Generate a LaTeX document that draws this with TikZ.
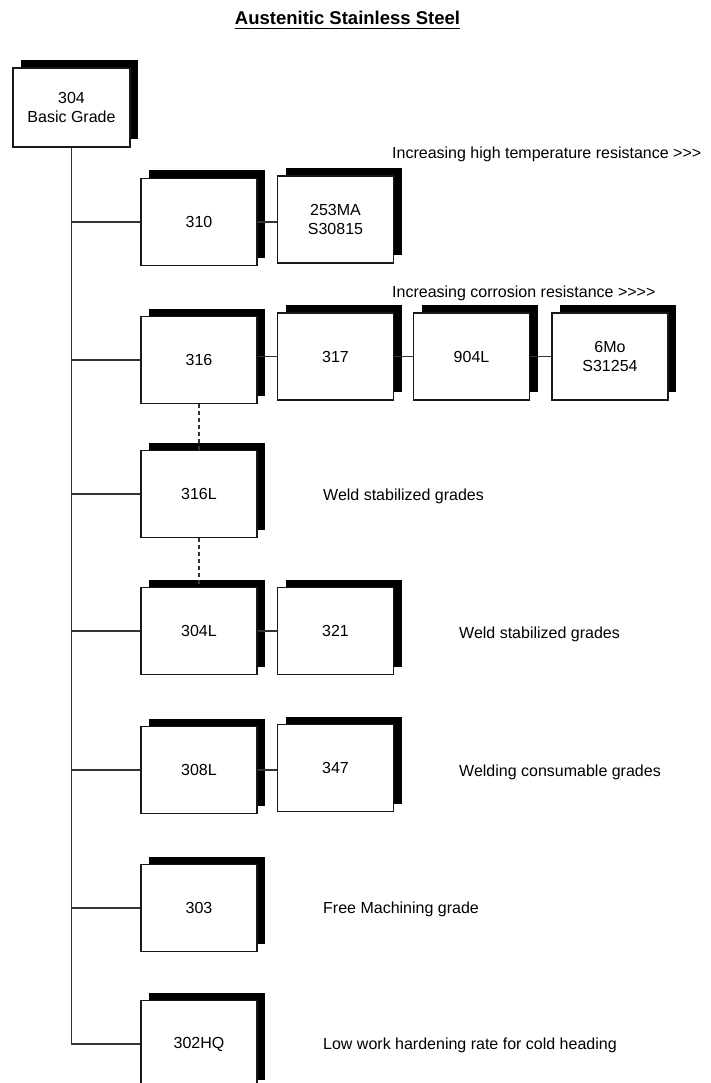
\documentclass[tikz,border=0pt]{standalone}
\usepackage{fontspec}
\newfontfamily\lab{Liberation Sans}
\usetikzlibrary{shadows}
\begin{document}
\begin{tikzpicture}[x=1pt,y=-1pt,
  grade/.style={draw=black!90, line width=1.2pt, fill=white,
    minimum width=116pt, minimum height=87pt, inner sep=0pt, align=center,
    font=\lab\fontsize{16}{19}\selectfont,
    drop shadow={shadow xshift=8pt, shadow yshift=8pt, fill=black, opacity=1, shadow scale=1}},
  link/.style={draw=black!80, line width=1.2pt},
  dashlink/.style={draw=black!80, line width=1.2pt, dash pattern=on 4pt off 3pt},
  note/.style={anchor=base west, inner sep=0pt, font=\lab\fontsize{16}{19}\selectfont}]
\path[use as bounding box, fill=white] (0,0) rectangle (710,1083);

% title
\node[anchor=base, inner sep=0pt, font=\lab\bfseries\fontsize{18.5}{22}\selectfont] (title) at (347.5,25) {Austenitic Stainless Steel};
\draw[line width=1.8pt] ([yshift=-3.5pt]title.base west) -- ([yshift=-3.5pt]title.base east);

% boxes
\node[grade, minimum width=117pt, minimum height=79pt] (g304) at (71.5,107.5) {304\\Basic Grade};
\node[grade] (g310) at (199,222) {310};
\node[grade] (g253) at (335.5,219.5) {253MA\\S30815};
\node[grade] (g316) at (199,360) {316};
\node[grade] (g317) at (335.5,356.5) {317};
\node[grade] (g904) at (471.5,356.5) {904L};
\node[grade] (g6mo) at (610,356.5) {6Mo\\S31254};
\node[grade] (g316l) at (199,494) {316L};
\node[grade] (g304l) at (199,631) {304L};
\node[grade] (g321) at (335.5,631) {321};
\node[grade] (g308l) at (199,770) {308L};
\node[grade] (g347) at (335.5,768) {347};
\node[grade] (g303) at (199,908) {303};
\node[grade] (g302) at (199,1044) {302HQ};

% notes
\node[note] (n1) at (392,159) {Increasing high temperature resistance >>>};
\node[note] (n2) at (392,297.5) {Increasing corrosion resistance >>>>};
\node[note] (n3) at (323,500) {Weld stabilized grades};
\node[note] (n4) at (459,638.5) {Weld stabilized grades};
\node[note] (n5) at (459,776.5) {Welding consumable grades};
\node[note] (n6) at (323,913.5) {Free Machining grade};
\node[note] (n7) at (323,1049.5) {Low work hardening rate for cold heading};

% trunk and branches
\draw[link] (g304.south) |- (g302.west);
\draw[link] (g304.south |- g310.west) -- (g310.west);
\draw[link] (g304.south |- g316.west) -- (g316.west);
\draw[link] (g304.south |- g316l.west) -- (g316l.west);
\draw[link] (g304.south |- g304l.west) -- (g304l.west);
\draw[link] (g304.south |- g308l.west) -- (g308l.west);
\draw[link] (g304.south |- g303.west) -- (g303.west);

% row links
\draw[link] (g310.east) -- (g310.east -| g253.west);
\draw[link] (g317.west -| g316.east) -- (g317.west);
\draw[link] (g317.east) -- (g904.west);
\draw[link] (g904.east) -- (g6mo.west);
\draw[link] (g304l.east) -- (g321.west);
\draw[link] (g308l.east) -- (g308l.east -| g347.west);

% dashed links
\draw[dashlink] (g316.south) -- (g316l.north);
\draw[dashlink] (g316l.south) -- (g304l.north);
\end{tikzpicture}
\end{document}
